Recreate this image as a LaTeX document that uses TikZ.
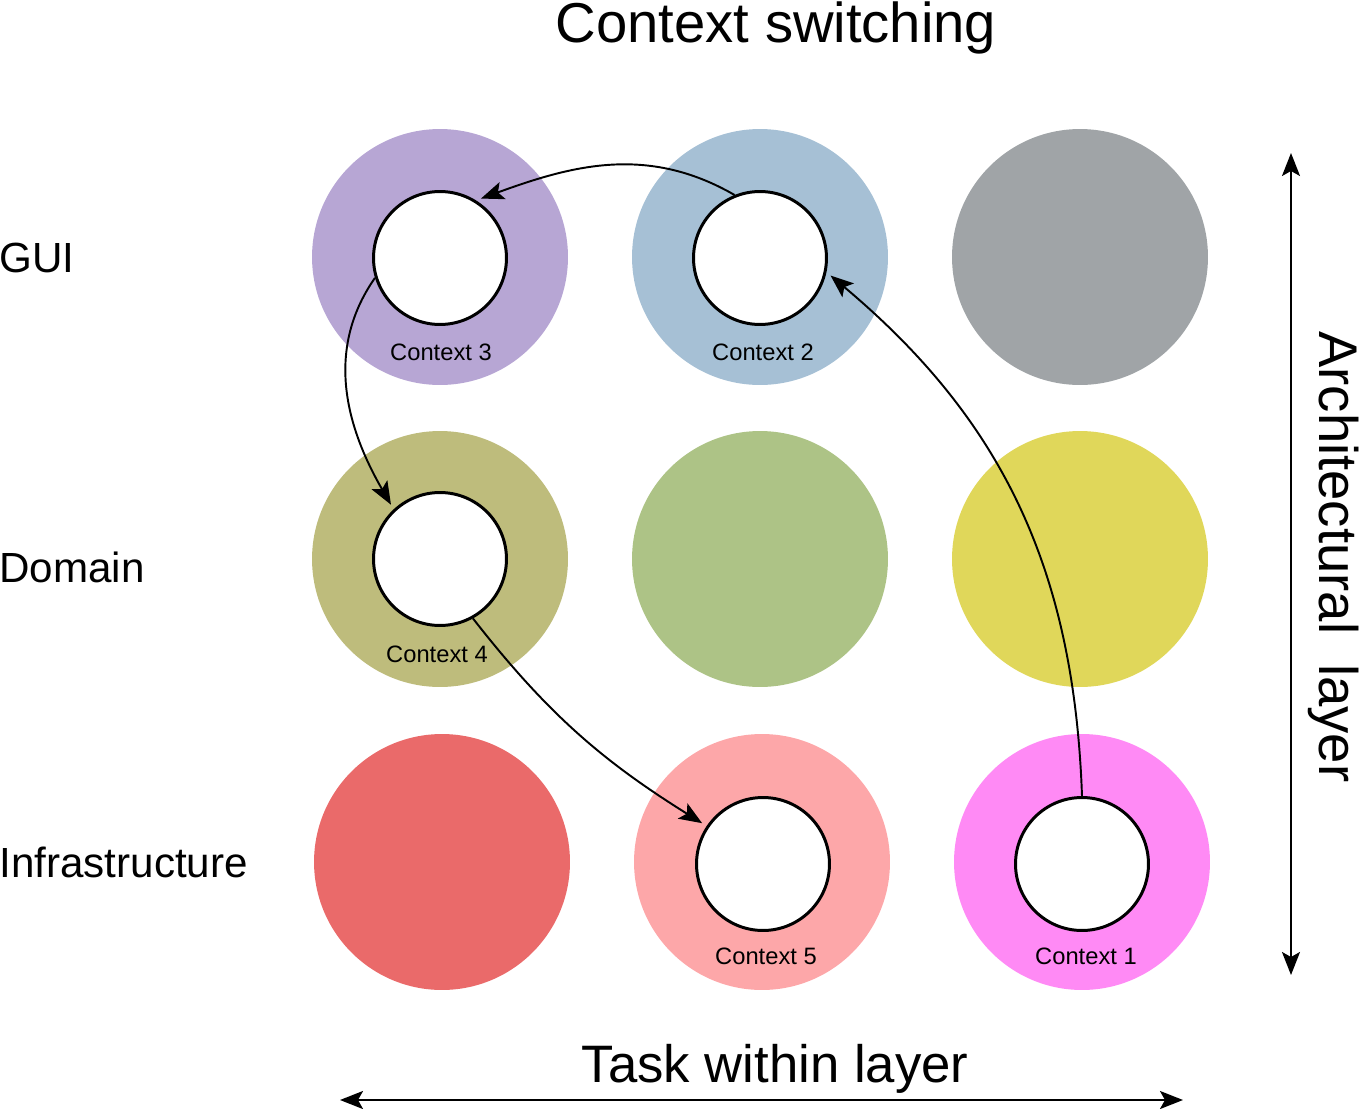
\documentclass[tikz,border=0pt]{standalone}
\usepackage{fontspec}
\setmainfont{Liberation Sans}
\usetikzlibrary{calc, arrows.meta}

\definecolor{guiOne}{HTML}{B7A6D4}
\definecolor{guiTwo}{HTML}{A6C0D5}
\definecolor{guiThree}{HTML}{A0A4A7}
\definecolor{domOne}{HTML}{BEBC7C}
\definecolor{domTwo}{HTML}{ADC386}
\definecolor{domThree}{HTML}{E0D75A}
\definecolor{infOne}{HTML}{EA6A6A}
\definecolor{infTwo}{HTML}{FDA7A9}
\definecolor{infThree}{HTML}{FF8AF5}

\tikzset{
	layer/.style = {circle, inner sep = 0pt, minimum size = 5.12cm},
	context/.style = {circle, draw, fill = white, line width = 1.7pt, inner sep = 0pt, minimum size = 2.66cm},
	ctxlabel/.style = {anchor = base, inner sep = 0pt, font = \fontsize{13.5}{16}\selectfont},
	rowlabel/.style = {anchor = base west, inner sep = 0pt, font = \fontsize{24}{28}\selectfont},
	axislabel/.style = {anchor = base, inner sep = 0pt, font = \fontsize{30}{36}\selectfont},
	tip/.tip = {Stealth[length = 0.46cm, width = 0.36cm, inset = 0.1cm]}
}

\begin{document}
\begin{tikzpicture}[x = 0.02cm, y = -0.02cm]
	\useasboundingbox (0,0) rectangle (1360,1109);

	% layers, one row each
	\node [layer, fill = guiOne] (gui1) at (440,257) {};
	\node [layer, fill = guiTwo] (gui2) at (760,257) {};
	\node [layer, fill = guiThree] (gui3) at (1080,257) {};

	\node [layer, fill = domOne] (dom1) at (440,559) {};
	\node [layer, fill = domTwo] (dom2) at (760,559) {};
	\node [layer, fill = domThree] (dom3) at (1080,559) {};

	\node [layer, fill = infOne] (inf1) at (442,862) {};
	\node [layer, fill = infTwo] (inf2) at (762,862) {};
	\node [layer, fill = infThree] (inf3) at (1082,862) {};

	% contexts
	\node [context] (ctx3) at (440,258) {};
	\node [context] (ctx2) at (760,258) {};
	\node [context] (ctx4) at (440,559) {};
	\node [context] (ctx5) at (763,864) {};
	\node [context] (ctx1) at (1082,864) {};

	\node [ctxlabel] (lab3) at (441,360) {Context 3};
	\node [ctxlabel] (lab2) at (763,360) {Context 2};
	\node [ctxlabel] (lab4) at (437,662) {Context 4};
	\node [ctxlabel] (lab5) at (766,964) {Context 5};
	\node [ctxlabel] (lab1) at (1086,964) {Context 1};

	% labels
	\node [axislabel, font = \fontsize{32}{38}\selectfont] (title) at (776,42) {Context switching};
	\node [rowlabel] (gui) at (-1,272) {GUI};
	\node [rowlabel] (domain) at (-1,582) {Domain};
	\node [rowlabel] (infra) at (-1,877) {Infrastructure};
	\node [axislabel] (task) at (775,1082) {Task within layer};
	\node [axislabel, font = \fontsize{31}{37}\selectfont, rotate = -90] (arch) at (1319,557) {Architectural\ \ layer};

	% switches
	\begin{scope}[-tip, line width = 1.1pt, shorten > = 3pt]
		\draw (ctx1.90) to [out = 92, in = -40] (ctx2.-12);
		\draw (ctx2.112) to [out = 150, in = 20] (ctx3.58);
		\draw (ctx3.197) to [out = 235, in = 120] (ctx4.133);
		\draw (ctx4.-61) to [out = -52, in = 148] (ctx5.146);
	\end{scope}

	% axes
	\coordinate (archtop) at (1291,153);
	\coordinate (archbot) at (1291,975);
	\coordinate (taskleft) at (340,1100);
	\coordinate (taskright) at (1183,1100);
	\draw [tip-tip, line width = 1.1pt] (archtop) -- (archbot);
	\draw [tip-tip, line width = 1.3pt] (taskleft) -- (taskright);
\end{tikzpicture}
\end{document}
